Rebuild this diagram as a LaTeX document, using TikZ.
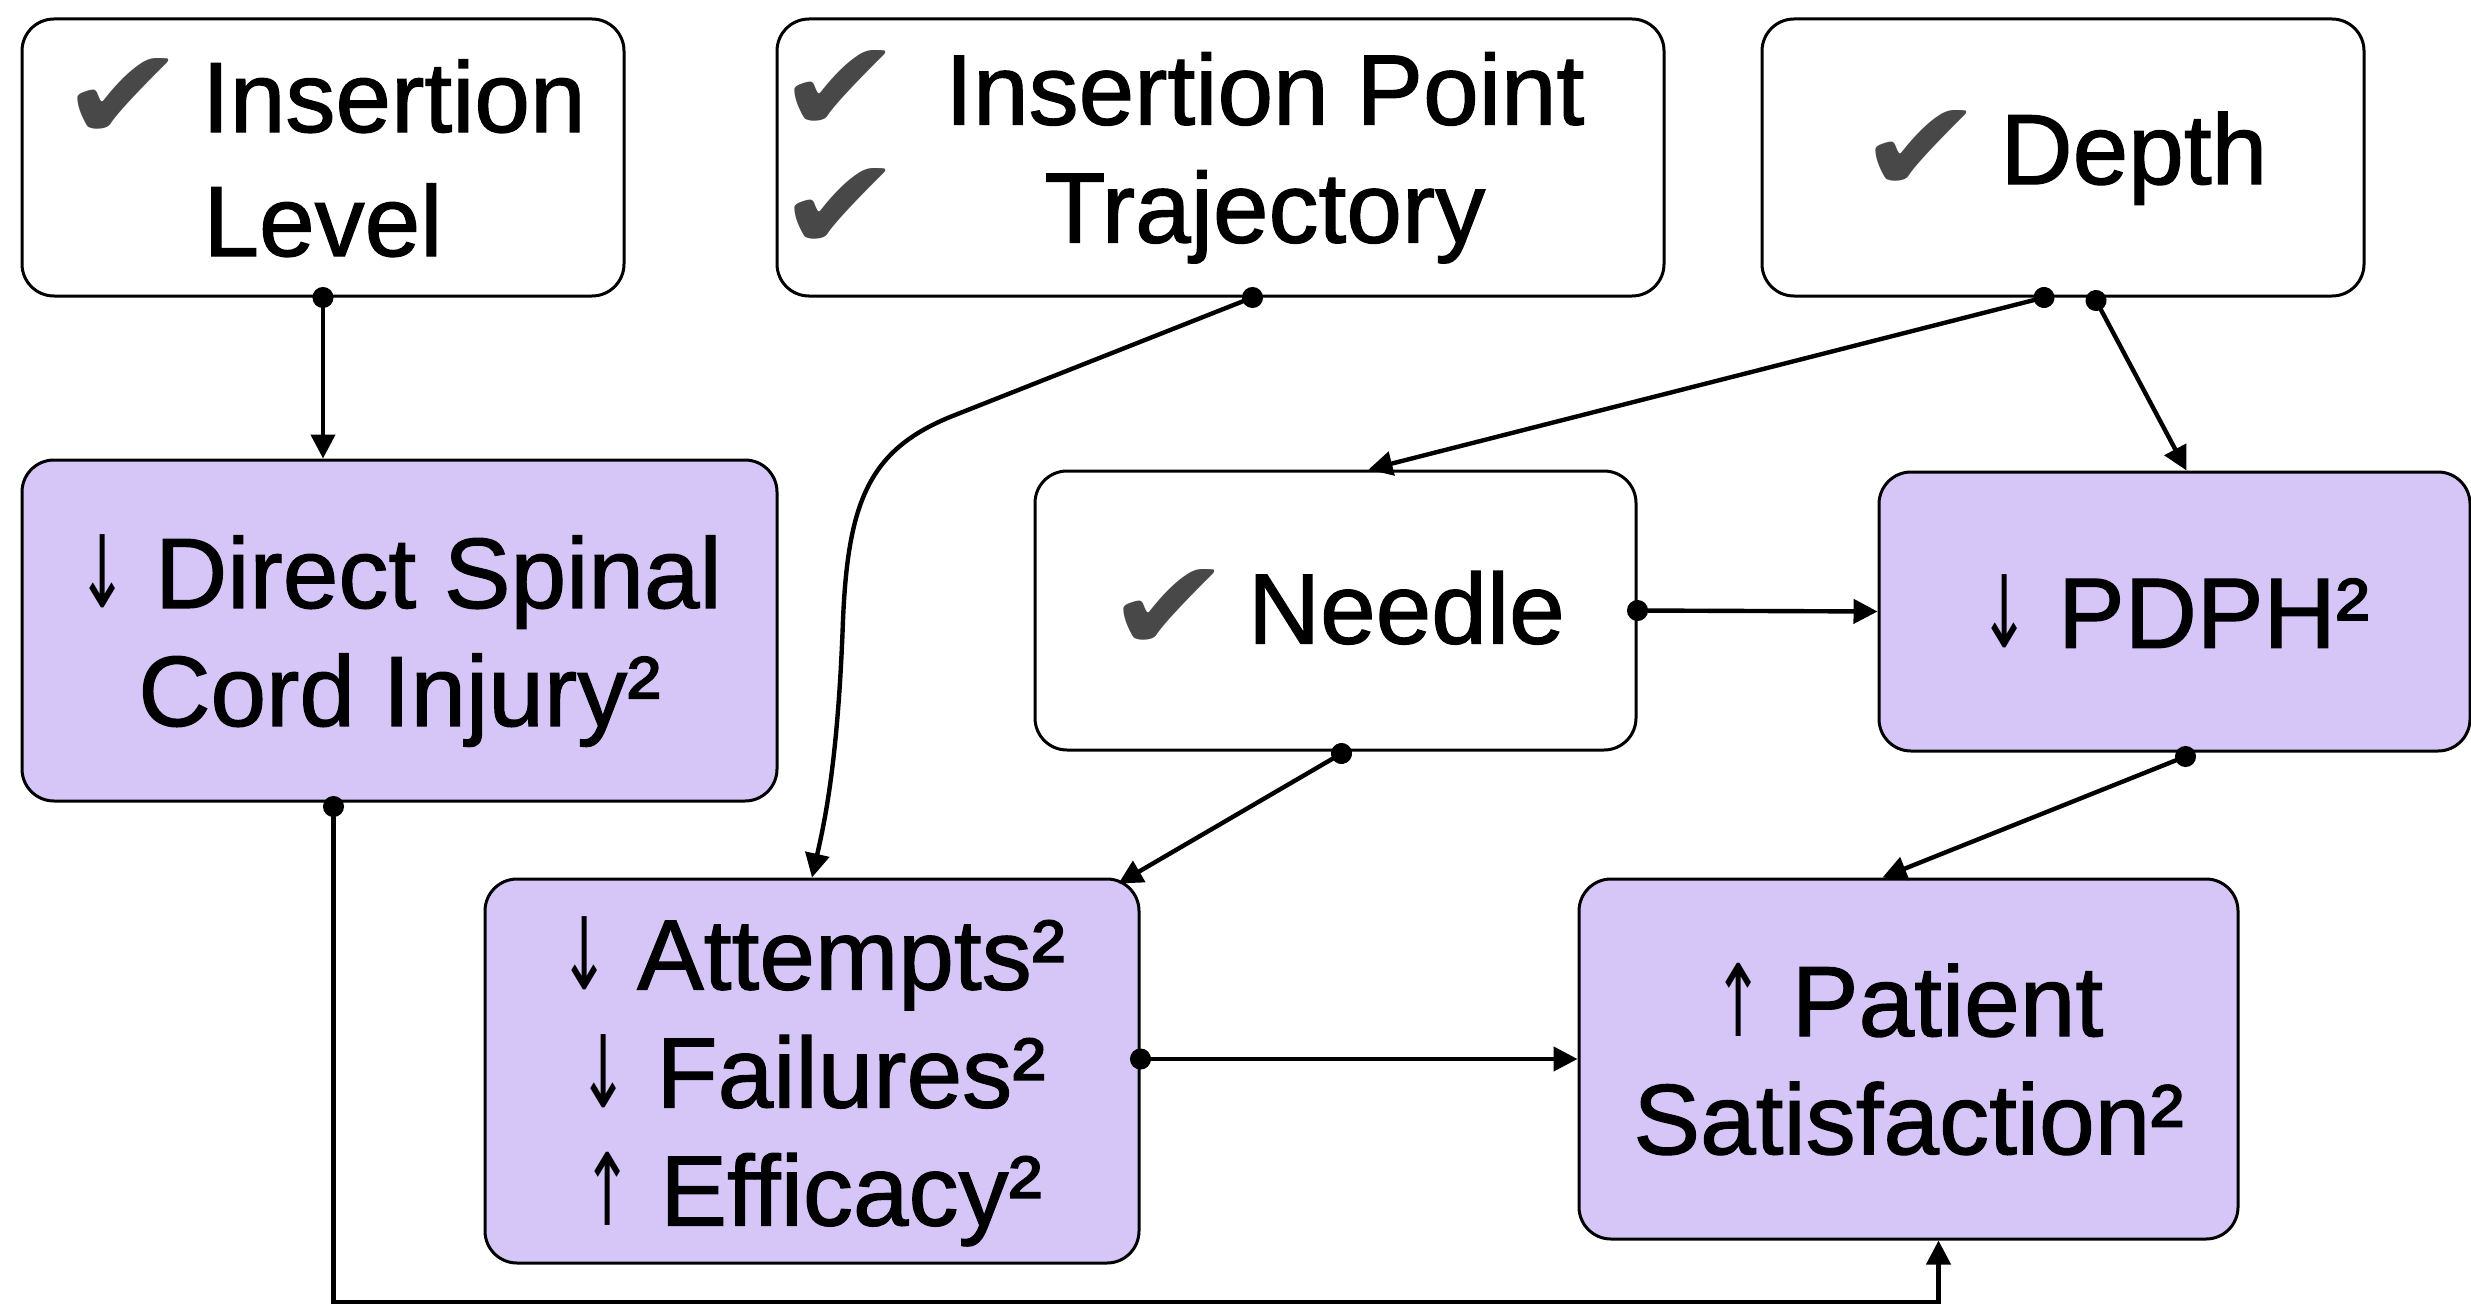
\documentclass[tikz,border=0pt]{standalone}
\usepackage{fontspec}
\usepackage{graphicx}
\setmainfont{Liberation Sans}[FakeBold=1.2]
\newfontfamily\symfont{DejaVu Sans}
\usetikzlibrary{arrows.meta,calc}
\definecolor{lav}{RGB}{214,198,247}
\definecolor{chk}{RGB}{72,72,72}
\newcommand{\ck}{\raisebox{-0.08em}{\scalebox{1.5}[1.3]{\symfont\color{chk}✔}}}
\newcommand{\ckk}{\ck\hspace{8pt}}
\newcommand{\dn}{\scalebox{0.6}[1]{\symfont ↓}}
\newcommand{\up}{\scalebox{0.6}[1]{\symfont ↑}}
\begin{document}
\begin{tikzpicture}[x=0.5pt,y=-0.5pt,
  box/.style={draw, line width=1.5pt, rounded corners=16pt, inner sep=0pt, align=center,
    font=\fontsize{50}{59}\selectfont},
  pbox/.style={box, fill=lav},
  conn/.style={line width=2.2pt, {Circle[length=10.5pt,width=10.5pt]}-{Triangle[length=12pt,width=12pt]}, shorten <=-5.25pt},
  txt/.style={inner sep=0pt, align=center, font=\fontsize{50}{59}\selectfont},
]
\useasboundingbox (0,0) rectangle (2471,1305);

% boxes
\node[box, minimum width=301pt, minimum height=138.5pt, font=\fontsize{50}{62}\selectfont] (A) at (323,157.5) {\ckk Insertion\\Level};
\node[box, minimum width=443.5pt, minimum height=138.5pt] (B) at (1220.5,157.5) {};
\node[txt] (Btext) at (1181,160) {\begin{tabular}{@{}c@{\hspace{21pt}}c@{}}\ck & Insertion Point\\ \ck & Trajectory\end{tabular}};
\node[box, minimum width=301pt, minimum height=138.5pt] (C) at (2063,157.5) {\ckk Depth};
\node[pbox, minimum width=377.5pt, minimum height=170.5pt, text depth=0pt] (D) at (399.5,630.5) {\dn\ Direct Spinal\\Cord Injury²};
\node[box, minimum width=300.5pt, minimum height=139.5pt] (E) at (1335.5,610.5) {\ckk Needle};
\node[pbox, minimum width=295.5pt, minimum height=139.5pt] (F) at (2174.5,611.5) {\dn\ PDPH²};
\node[pbox, minimum width=327pt, minimum height=192pt, text depth=0pt] (G) at (812,1071) {\dn\ Attempts²\\\dn\ Failures²\\\up\ Efficacy²};
\node[pbox, minimum width=329.5pt, minimum height=180pt] (H) at (1908.5,1059) {\up\ Patient\\Satisfaction²};

% connectors
\draw[conn] (A.south) -- (A.south |- D.north);
\draw[conn] ($(B.south)+(32,0)$) -- (950,417) .. controls (870,450) and (848,500) .. (843,620)
   .. controls (838,760) and (825,820) .. (G.north);
\draw[conn] ($(C.south)+(-19,0)$) -- ($(E.north)+(33,0)$);
\draw[conn] ($(C.south)+(33,3)$) -- ($(F.north)+(12,0)$);
\draw[conn] (E.east) -- (F.west);
\draw[conn] ($(E.south)+(6,2)$) -- ($(G.north east)+(-22,6)$);
\draw[conn] ($(F.south)+(11,4)$) -- ($(H.north)+(-26,0)$);
\draw[conn] (G.east |- H.west) -- (H.west);
\coordinate (low) at (0,1302);
\coordinate (ds) at ($(D.south)+(-66,4)$);
\coordinate (hs) at ($(H.south)+(30,0)$);
\draw[conn] (ds) -- (ds |- low) -- (hs |- low) -- (hs);
\end{tikzpicture}
\end{document}
